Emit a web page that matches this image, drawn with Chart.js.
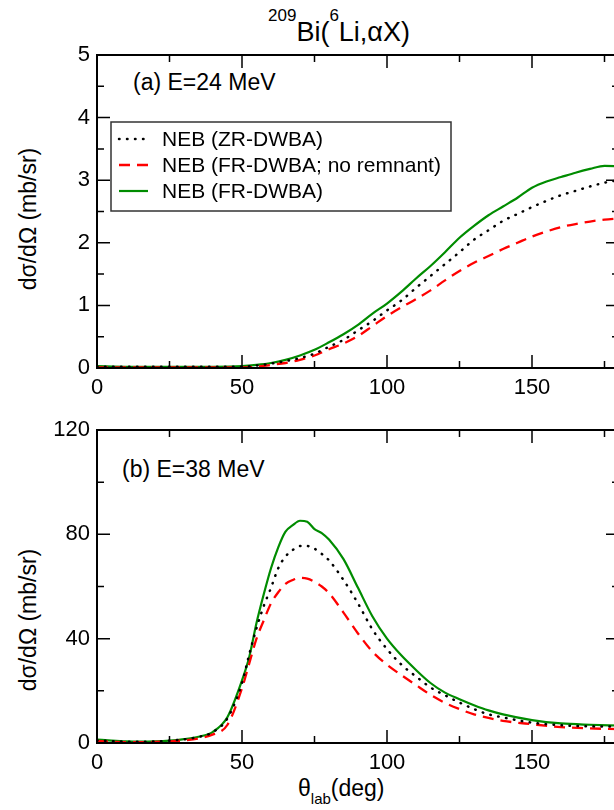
<!DOCTYPE html>
<html lang="en">
<head>
<meta charset="UTF-8">
<title>209Bi(6Li,alpha X)</title>
<script src="https://cdn.jsdelivr.net/npm/chart.js@4"></script>
<style>
  body { margin: 0; background: #fff; }
  #page { position: relative; width: 614px; height: 810px; overflow: hidden;
          font-family: "Liberation Sans", Arial, sans-serif; color: #000; }
  #page canvas { position: absolute; left: 0; }
  .txt { position: absolute; white-space: nowrap; line-height: 1; }
  .ytitle { position: absolute; white-space: nowrap; font-size: 23px; line-height: 1;
            transform: translate(-50%, -50%) rotate(-90deg); }
</style>
</head>
<body>
<div id="page">
  <div class="txt" style="left:268px; top:19px; font-size:27px;"><span style="font-size:17px; position:relative; top:-20px;">209</span>Bi(<span style="font-size:17px; position:relative; top:-20px;">6</span>Li,αX)</div>
  <div class="txt" style="left:133px; top:71px; font-size:23px;">(a) E=24 MeV</div>
  <div class="txt" style="left:122px; top:458px; font-size:23px;">(b) E=38 MeV</div>
  <div class="ytitle" style="left:28px; top:219px;">dσ/dΩ (mb/sr)</div>
  <div class="ytitle" style="left:28px; top:620px;">dσ/dΩ (mb/sr)</div>
  <div class="txt" style="left:298px; top:777px; font-size:23px;">θ<span style="font-size:15px; position:relative; top:8px;">lab</span>(deg)</div>
  <canvas id="panelA" width="624" height="400" style="top:0;"></canvas>
  <canvas id="panelB" width="624" height="410" style="top:400px;"></canvas>
</div>

<script>
  // axis ticks
  const xMajor = [0, 50, 100, 150];
  const xMinor = [25, 75, 125, 175];
  const yMajorA = [0, 1, 2, 3, 4, 5];
  const yMinorA = [0.5, 1.5, 2.5, 3.5, 4.5];
  const yMajorB = [0, 40, 80, 120];
  const yMinorB = [20, 60, 100];

  const seriesLabels = ['NEB (ZR-DWBA)', 'NEB (FR-DWBA; no remnant)', 'NEB (FR-DWBA)'];

  // (a) E=24 MeV
  const anglesA = [0, 10, 20, 30, 40, 50, 55, 60, 65, 70, 75, 80, 85, 90, 95, 100, 105, 110,
    115, 120, 125, 130, 135, 140, 145, 150, 155, 160, 165, 170, 175, 180];
  const zrA = [0.02, 0.02, 0.02, 0.02, 0.02, 0.02, 0.04, 0.07, 0.11, 0.16, 0.23, 0.34, 0.45, 0.6,
    0.75, 0.92, 1.08, 1.28, 1.47, 1.66, 1.85, 2.05, 2.2, 2.35, 2.46, 2.57, 2.67, 2.76, 2.83, 2.9, 2.96, 3.0];
  const noRemA = [0.01, 0.01, 0.01, 0.01, 0.01, 0.01, 0.02, 0.05, 0.08, 0.13, 0.2, 0.3, 0.39, 0.51,
    0.67, 0.83, 0.97, 1.1, 1.24, 1.4, 1.55, 1.68, 1.79, 1.9, 2.0, 2.1, 2.18, 2.25, 2.3, 2.34, 2.37, 2.39];
  const frA = [0.03, 0.02, 0.02, 0.02, 0.02, 0.03, 0.05, 0.08, 0.13, 0.2, 0.29, 0.41, 0.54, 0.69,
    0.87, 1.03, 1.22, 1.43, 1.63, 1.85, 2.08, 2.27, 2.44, 2.58, 2.72, 2.88, 2.98, 3.05, 3.12, 3.18, 3.23, 3.22];

  // (b) E=38 MeV
  const anglesB = [0, 5, 10, 15, 20, 25, 30, 35, 40, 45, 50, 52.5, 55, 57.5, 60, 62.5, 65, 67.5,
    70, 72.5, 75, 77.5, 80, 85, 90, 95, 100, 105, 110, 115, 120, 125, 130, 135, 140, 150, 160, 170, 180];
  const zrB = [1.0, 0.7, 0.5, 0.5, 0.6, 0.9, 1.4, 2.3, 4.2, 9.5, 23, 34, 44, 52.5, 59.5, 67, 71.5, 74,
    75.5, 75.5, 74.5, 72.5, 70, 62.5, 53.5, 43.5, 36, 30, 25.5, 21.3, 18.3, 15.5, 13, 11, 9.8, 7.8, 6.8, 6.4, 6.3];
  const noRemB = [0.8, 0.5, 0.3, 0.3, 0.4, 0.6, 1.0, 1.7, 3.3, 7, 21, 30.5, 40, 47, 53.5, 57.8, 61, 62.5,
    63.3, 63, 61.8, 60, 57.5, 50, 42, 35, 30, 26, 22.2, 18.5, 15.4, 13, 11, 9.6, 8.5, 7.2, 6.1, 5.6, 5.3];
  const frB = [1.3, 0.9, 0.6, 0.5, 0.6, 0.9, 1.5, 2.4, 4.3, 10, 24, 33, 46, 57, 67, 75, 81, 83.5,
    85.2, 84.8, 82, 80.5, 78, 70.5, 59.5, 48.5, 40, 33.5, 28, 23, 19.3, 16.8, 14.5, 12.5, 11, 8.8, 7.5, 7, 6.7];

  const FONT = '"Liberation Sans", Arial, sans-serif';
  const GREEN = 'rgb(0,140,0)';
  const RED = 'rgb(255,0,0)';

  function pts(xs, ys) {
    return xs.map((x, i) => ({ x: x, y: ys[i] }));
  }

  function makeSets(angles, zr, noRem, fr) {
    const common = { pointRadius: 0, fill: false, cubicInterpolationMode: 'monotone' };
    return [
      Object.assign({ label: seriesLabels[0], data: pts(angles, zr), borderColor: '#000',
        borderWidth: 2.5, borderDash: [0.5, 7.5], borderCapStyle: 'round' }, common),
      Object.assign({ label: seriesLabels[1], data: pts(angles, noRem), borderColor: RED,
        borderWidth: 2.3, borderDash: [11, 7] }, common),
      Object.assign({ label: seriesLabels[2], data: pts(angles, fr), borderColor: GREEN,
        borderWidth: 2.2 }, common)
    ];
  }

  // frame with inward tick marks on all four sides
  const framePlugin = {
    id: 'frame',
    afterDraw(chart, args, o) {
      const { ctx, chartArea: a, scales: { x, y } } = chart;
      ctx.save();
      ctx.strokeStyle = '#000';
      ctx.lineWidth = 1.5;
      ctx.beginPath();
      const xMark = (v, len) => {
        const px = x.getPixelForValue(v);
        ctx.moveTo(px, a.bottom); ctx.lineTo(px, a.bottom - len);
        ctx.moveTo(px, a.top); ctx.lineTo(px, a.top + len);
      };
      const yMark = (v, len) => {
        const py = y.getPixelForValue(v);
        ctx.moveTo(a.left, py); ctx.lineTo(a.left + len, py);
        ctx.moveTo(a.right, py); ctx.lineTo(a.right - len, py);
      };
      o.xMajor.forEach(v => xMark(v, 13));
      o.xMinor.forEach(v => xMark(v, 7));
      o.yMajor.forEach(v => yMark(v, 13));
      o.yMinor.forEach(v => yMark(v, 7));
      ctx.stroke();
      ctx.lineWidth = 2;
      ctx.strokeRect(a.left, a.top, a.right - a.left, a.bottom - a.top);
      ctx.restore();
    }
  };

  // boxed legend inside panel (a)
  const legendPlugin = {
    id: 'boxLegend',
    afterDraw(chart, args, o) {
      if (!o.show) return;
      const ctx = chart.ctx;
      ctx.save();
      ctx.fillStyle = '#fff';
      ctx.fillRect(o.left, o.top, o.width, o.height);
      ctx.strokeStyle = '#333';
      ctx.lineWidth = 1.5;
      ctx.strokeRect(o.left, o.top, o.width, o.height);
      chart.data.datasets.forEach((ds, i) => {
        const yy = o.top + o.firstRow + i * o.rowGap;
        ctx.beginPath();
        ctx.setLineDash(ds.borderDash || []);
        ctx.lineCap = ds.borderCapStyle || 'butt';
        ctx.strokeStyle = ds.borderColor;
        ctx.lineWidth = ds.borderWidth;
        ctx.moveTo(o.left + 8, yy);
        ctx.lineTo(o.left + 37, yy);
        ctx.stroke();
        ctx.setLineDash([]);
        ctx.fillStyle = '#000';
        ctx.font = '21px ' + FONT;
        ctx.textBaseline = 'middle';
        ctx.fillText(ds.label, o.left + 51, yy + 1);
      });
      ctx.restore();
    }
  };

  function makePanel(id, datasets, yMax, yMajor, yMinor, padTop, xAxisH, legend) {
    const tickFont = { family: FONT, size: 22 };
    return new Chart(document.getElementById(id), {
      type: 'line',
      data: { datasets: datasets },
      plugins: [framePlugin, legendPlugin],
      options: {
        responsive: false,
        animation: false,
        layout: { padding: { top: padTop, right: 5, bottom: 0, left: 0 } },
        scales: {
          x: {
            type: 'linear', min: 0, max: 180,
            afterBuildTicks: s => { s.ticks = xMajor.map(v => ({ value: v })); },
            afterFit: s => { s.height = xAxisH; },
            grid: { display: false, drawTicks: false },
            border: { display: false },
            ticks: { font: tickFont, color: '#000', padding: 7, maxRotation: 0, autoSkip: false }
          },
          y: {
            min: 0, max: yMax,
            afterBuildTicks: s => { s.ticks = yMajor.map(v => ({ value: v })); },
            afterFit: s => { s.width = 97; },
            grid: { display: false, drawTicks: false },
            border: { display: false },
            ticks: { font: tickFont, color: '#000', padding: 7, autoSkip: false }
          }
        },
        plugins: {
          legend: { display: false },
          tooltip: { enabled: false },
          frame: { xMajor: xMajor, xMinor: xMinor, yMajor: yMajor, yMinor: yMinor },
          boxLegend: legend
        }
      }
    });
  }

  makePanel('panelA', makeSets(anglesA, zrA, noRemA, frA), 5, yMajorA, yMinorA, 55, 32,
    { show: true, left: 111, top: 122, width: 340, height: 89, firstRow: 17, rowGap: 26 });
  makePanel('panelB', makeSets(anglesB, zrB, noRemB, frB), 120, yMajorB, yMinorB, 30, 67,
    { show: false });
</script>
</body>
</html>
